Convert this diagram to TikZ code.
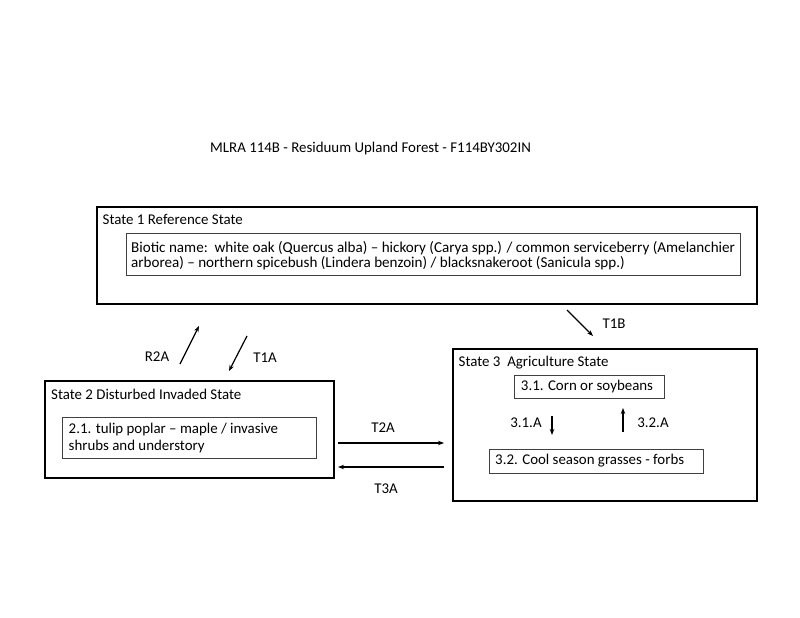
\documentclass[tikz,border=0pt]{standalone}
\usepackage{fontspec}
\setmainfont{Carlito}
\usetikzlibrary{arrows.meta}
\begin{document}
\begin{tikzpicture}[x=1pt,y=-1pt,
  outerbox/.style={draw=black, line width=1.8pt, inner sep=0pt},
  innerbox/.style={draw=black!75, line width=1pt, inner sep=0pt},
  txt/.style={inner sep=0pt, font=\fontsize{14.9}{17}\selectfont},
  bioticfont/.style={inner sep=0pt, font=\fontsize{15.1}{15.6}\selectfont},
  arr/.style={line width=1.2pt, -{Stealth[length=6pt,width=4.5pt]}}
]
\useasboundingbox[fill=white] (0,0) rectangle (800,618);

% title
\node[txt, anchor=base west] (title) at (210,152) {MLRA 114B - Residuum Upland Forest - F114BY302IN};

% State 1
\node[outerbox, minimum width=660pt, minimum height=97pt] (s1) at (427,255.5) {};
\node[txt, anchor=base west] (s1t) at (102.5,224) {State 1 Reference State};
\node[innerbox, minimum width=614pt, minimum height=42pt] (s1b) at (433,254) {};
\node[bioticfont, anchor=west, align=left] (s1x) at (131,255.5) {Biotic name:\ \ white oak (Quercus alba) – hickory (Carya spp.) / common serviceberry (Amelanchier\\arborea) – northern spicebush (Lindera benzoin) / blacksnakeroot (Sanicula spp.)};

% State 2
\node[outerbox, minimum width=289pt, minimum height=97pt] (s2) at (189.5,429.5) {};
\node[txt, anchor=base west] (s2t) at (51,399) {State 2 Disturbed Invaded State};
\node[innerbox, minimum width=254pt, minimum height=41pt] (s2b) at (189,437.5) {};
\node[txt, anchor=west, align=left] (s2x) at (68.5,438.5) {2.1. tulip poplar – maple / invasive\\shrubs and understory};

% State 3
\node[outerbox, minimum width=304pt, minimum height=152pt] (s3) at (605,425) {};
\node[txt, anchor=base west] (s3t) at (458.5,366.5) {State 3\ \ Agriculture State};
\node[innerbox, minimum width=150pt, minimum height=23pt] (s31) at (589,386.5) {};
\node[txt] (s31x) at (587,386.5) {3.1. Corn or soybeans};
\node[innerbox, minimum width=214pt, minimum height=24pt] (s32) at (596,461) {};
\node[txt, anchor=west] (s32x) at (495,461) {3.2. Cool season grasses - forbs};

% arrow end points
\coordinate (r2a-a) at (180,364);
\coordinate (r2a-b) at (199,326);
\coordinate (t1a-a) at (247,336);
\coordinate (t1a-b) at (229,371);
\coordinate (t1b-a) at (567,310);
\coordinate (t1b-b) at (593,336);
\coordinate (t2a-a) at (338,443);
\coordinate (t2a-b) at (444,443);
\coordinate (t3a-a) at (444,467);
\coordinate (t3a-b) at (338,467);
\coordinate (a31-a) at (552,416);
\coordinate (a31-b) at (552,435);
\coordinate (a32-a) at (623,432);
\coordinate (a32-b) at (623,408);

\draw[arr] (r2a-a) -- (r2a-b);
\draw[arr] (t1a-a) -- (t1a-b);
\draw[arr] (t1b-a) -- (t1b-b);
\draw[arr] (t2a-a) -- (t2a-b);
\draw[arr] (t3a-a) -- (t3a-b);
\draw[arr] (a31-a) -- (a31-b);
\draw[arr] (a32-a) -- (a32-b);

% labels
\node[txt] (lr2a) at (157,357) {R2A};
\node[txt] (lt1a) at (265,358) {T1A};
\node[txt] (lt1b) at (614,324) {T1B};
\node[txt] (lt2a) at (383,428) {T2A};
\node[txt] (lt3a) at (386,489) {T3A};
\node[txt] (l31) at (526,423) {3.1.A};
\node[txt] (l32) at (653,423) {3.2.A};
\end{tikzpicture}
\end{document}
